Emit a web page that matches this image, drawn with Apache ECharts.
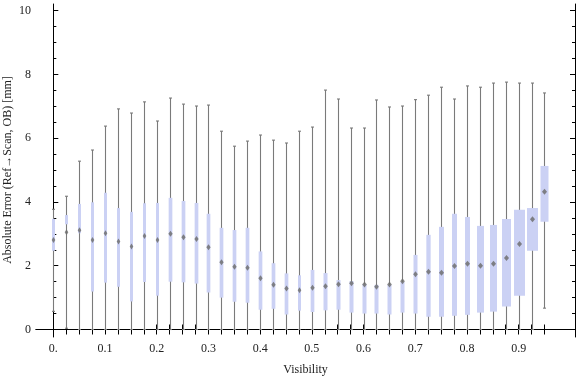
<!DOCTYPE html>
<html>
<head>
<meta charset="utf-8">
<script src="https://cdn.jsdelivr.net/npm/echarts@6/dist/echarts.min.js"></script>
<style>
html, body { margin: 0; padding: 0; background: #fff; }
#chart { width: 576px; height: 377px; }
</style>
</head>
<body>
<div id="chart"></div>
<script>
// box positions along the x axis
var visibility = [0, 0.025, 0.05, 0.075, 0.1, 0.125, 0.15, 0.175, 0.2, 0.225,
  0.25, 0.275, 0.3, 0.325, 0.35, 0.375, 0.4, 0.425, 0.45, 0.475,
  0.5, 0.525, 0.55, 0.575, 0.6, 0.625, 0.65, 0.675, 0.7, 0.725,
  0.75, 0.775, 0.8, 0.825, 0.85, 0.875, 0.9, 0.925, 0.95];

var whiskerLow = [0.57, 0.04, 0, 0, 0, 0, 0, 0, 0, 0,
  0, 0, 0, 0, 0, 0, 0, 0, 0, 0,
  0, 0, 0, 0, 0, 0, 0, 0, 0, 0,
  0, 0, 0, 0, 0, 0, 0, 0, 0.67];
var q1 = [2.47, 3.30, 3.02, 1.19, 1.47, 1.34, 0.88, 1.49, 1.06, 1.50,
  1.48, 1.44, 1.16, 1.00, 0.87, 0.84, 0.62, 0.65, 0.47, 0.59,
  0.55, 0.60, 0.62, 0.53, 0.50, 0.50, 0.47, 0.53, 0.50, 0.40,
  0.40, 0.43, 0.46, 0.53, 0.56, 0.72, 1.06, 2.47, 3.38];
var median = [2.81, 3.05, 3.11, 2.81, 3.02, 2.76, 2.60, 2.93, 2.81, 3.00,
  2.89, 2.84, 2.58, 2.11, 1.97, 1.94, 1.61, 1.40, 1.29, 1.23,
  1.31, 1.36, 1.42, 1.45, 1.41, 1.34, 1.41, 1.51, 1.73, 1.81,
  1.78, 1.99, 2.06, 2.00, 2.06, 2.24, 2.68, 3.46, 4.32];
var q3 = [3.47, 3.59, 3.94, 3.99, 4.29, 3.81, 3.69, 3.96, 3.97, 4.13,
  4.03, 3.97, 3.63, 3.19, 3.12, 3.19, 2.45, 2.08, 1.76, 1.70,
  1.87, 1.77, 1.55, 1.52, 1.42, 1.40, 1.40, 1.49, 2.34, 2.97,
  3.22, 3.63, 3.53, 3.25, 3.28, 3.47, 3.76, 3.81, 5.13];
var whiskerHigh = [3.77, 4.18, 5.28, 5.63, 6.38, 6.92, 6.79, 7.14, 6.54, 7.26,
  7.07, 7.01, 7.04, 6.22, 5.75, 5.91, 6.10, 5.94, 5.85, 6.22,
  6.35, 7.51, 7.23, 6.32, 6.32, 7.20, 6.98, 7.01, 7.21, 7.35,
  7.60, 7.23, 7.64, 7.60, 7.73, 7.76, 7.73, 7.73, 7.42];

// tick labels
var xLabels = [0, 0.1, 0.2, 0.3, 0.4, 0.5, 0.6, 0.7, 0.8, 0.9];
var yLabels = [0, 2, 4, 6, 8, 10];
var yMinor = [0.5, 1, 1.5, 2.5, 3, 3.5, 4.5, 5, 5.5, 6.5, 7, 7.5, 8.5, 9, 9.5];

// drawn box widths in px (styling, not data)
var boxPx = [3, 3, 3, 3, 3, 3, 3, 3, 3, 3.7,
  3.7, 3.7, 3.7, 3.7, 3.7, 3.7, 3.7, 3.7, 3.7, 3,
  3.7, 4, 4, 4, 4, 4, 4, 4, 4, 4.3,
  5, 5, 5, 7, 7, 9, 11, 11, 8];

var font = 'Liberation Serif';
var boxData = visibility.map(function (v, i) {
  return [v, whiskerLow[i], q1[i], median[i], q3[i], whiskerHigh[i]];
});

function renderBox(params, api) {
  var i = params.dataIndex;
  var x = api.value(0);
  var pLow = api.coord([x, api.value(1)]);
  var pQ1 = api.coord([x, api.value(2)]);
  var pMed = api.coord([x, api.value(3)]);
  var pQ3 = api.coord([x, api.value(4)]);
  var pHigh = api.coord([x, api.value(5)]);
  var cx = Math.round(pLow[0]) + 0.5;
  var w = boxPx[i];
  var wl = { stroke: '#7a7a7a', lineWidth: 1.1 };
  var hw = Math.min(2.5, w / 2 + 0.3);
  return {
    type: 'group',
    children: [
      { type: 'line', shape: { x1: cx, y1: pLow[1], x2: cx, y2: pHigh[1] }, style: wl },
      { type: 'line', shape: { x1: cx - 1.5, y1: pLow[1], x2: cx + 1.5, y2: pLow[1] }, style: wl },
      { type: 'line', shape: { x1: cx - 1.5, y1: pHigh[1], x2: cx + 1.5, y2: pHigh[1] }, style: wl },
      { type: 'rect', shape: { x: cx - w / 2, y: pQ3[1], width: w, height: pQ1[1] - pQ3[1] },
        style: { fill: '#cbd1f4' } },
      { type: 'polygon', shape: { points: [[cx, pMed[1] - 3], [cx + hw, pMed[1]], [cx, pMed[1] + 3], [cx - hw, pMed[1]]] },
        style: { fill: '#707070', opacity: 0.85 } }
    ]
  };
}

var labelStyle = { color: '#222', fontFamily: font, fontSize: 12 };
var lineBlack = { show: true, lineStyle: { color: '#000', width: 1 } };

var option = {
  animation: false,
  grid: { left: 36, right: 1, top: 4, bottom: 40, containLabel: false, outerBoundsMode: 'none' },
  // y axis title placed directly
  graphic: [{
    type: 'text',
    x: 8, y: 170,
    rotation: Math.PI / 2,
    style: {
      text: 'Absolute Error (Ref\u2192Scan, OB) [mm]',
      fill: '#222', font: '12px "Liberation Serif"',
      align: 'center', verticalAlign: 'middle'
    }
  }],
  xAxis: [
    {
      type: 'value', position: 'bottom', min: -0.0335, max: 1.009,
      axisLine: lineBlack,
      axisTick: { show: true, inside: true, length: 5, customValues: visibility, lineStyle: { color: '#000' } },
      axisLabel: Object.assign({ margin: 6, customValues: xLabels,
        formatter: function (v) { return v === 0 ? '0.' : v.toFixed(1); } }, labelStyle),
      splitLine: { show: false },
      name: 'Visibility', nameLocation: 'middle', nameGap: 27,
      nameTextStyle: { color: '#222', fontFamily: font, fontSize: 12 }
    },
    {
      type: 'value', position: 'top', min: -0.0335, max: 1.009,
      axisLine: lineBlack,
      axisTick: { show: true, inside: true, length: 5, customValues: visibility, lineStyle: { color: '#000' } },
      axisLabel: { show: false },
      splitLine: { show: false }
    }
  ],
  yAxis: [
    {
      type: 'value', position: 'left', offset: 0, min: -0.235, max: 10.21,
      axisLine: lineBlack,
      axisTick: { show: true, inside: true, length: 5, customValues: yLabels, lineStyle: { color: '#000' } },
      axisLabel: Object.assign({ margin: 5, customValues: yLabels }, labelStyle),
      splitLine: { show: false }
    },
    {
      type: 'value', position: 'left', offset: 0, min: -0.235, max: 10.21,
      axisLine: { show: false },
      axisTick: { show: true, inside: true, length: 3, customValues: yMinor, lineStyle: { color: '#000' } },
      axisLabel: { show: false },
      splitLine: { show: false }
    },
    {
      type: 'value', position: 'right', offset: 0, min: -0.235, max: 10.21,
      axisLine: lineBlack,
      axisTick: { show: true, inside: true, length: 5, customValues: yLabels, lineStyle: { color: '#000' } },
      axisLabel: { show: false },
      splitLine: { show: false }
    },
    {
      type: 'value', position: 'right', offset: 0, min: -0.235, max: 10.21,
      axisLine: { show: false },
      axisTick: { show: true, inside: true, length: 3, customValues: yMinor, lineStyle: { color: '#000' } },
      axisLabel: { show: false },
      splitLine: { show: false }
    }
  ],
  series: [{
    type: 'custom',
    xAxisIndex: 0,
    yAxisIndex: 0,
    renderItem: renderBox,
    encode: { x: 0, y: [1, 5] },
    data: boxData
  }]
};

var myChart = echarts.init(document.getElementById('chart'));
myChart.setOption(option);
</script>
</body>
</html>
